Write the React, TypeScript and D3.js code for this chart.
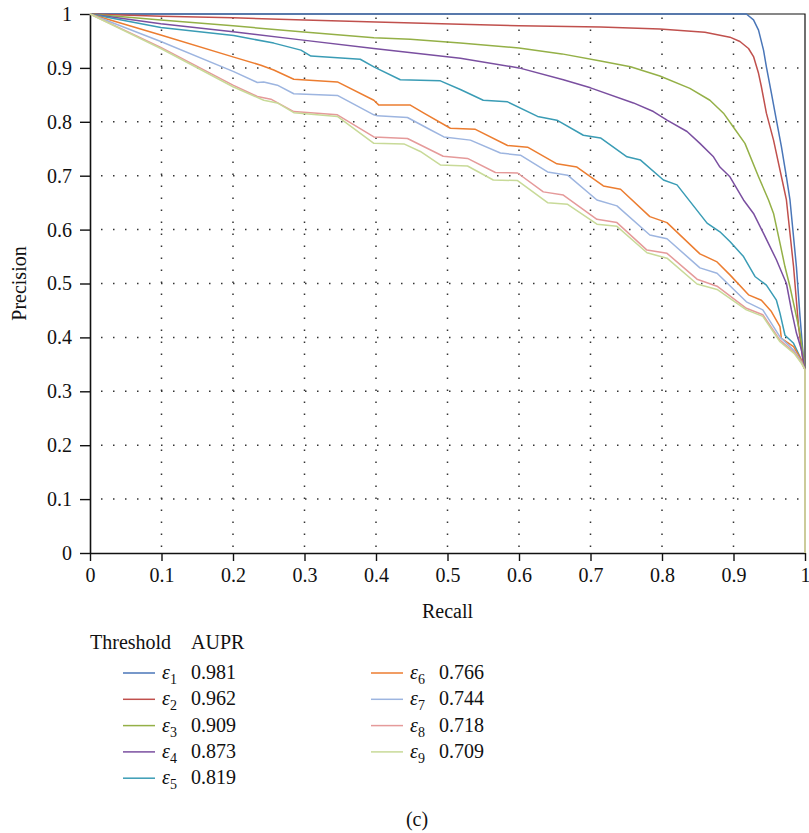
import React, { useRef, useEffect } from 'react'
import { select, scaleLinear, line, axisLeft, axisBottom } from 'd3'

// tick values for both axes
const recallTicks = [0, 0.1, 0.2, 0.3, 0.4, 0.5, 0.6, 0.7, 0.8, 0.9, 1]
const precisionTicks = [0, 0.1, 0.2, 0.3, 0.4, 0.5, 0.6, 0.7, 0.8, 0.9, 1]

// [recall, precision] points
const eps1 = [[0, 1], [0.918, 1], [0.928, 0.989], [0.935, 0.970], [0.942, 0.933], [0.946, 0.902], [0.953, 0.853], [0.960, 0.803], [0.967, 0.754], [0.974, 0.698], [0.979, 0.655], [0.988, 0.531], [0.993, 0.439], [0.998, 0.358], [1, 0.34], [1, 0]]
const eps2 = [[0, 1], [0.1, 0.996], [0.2, 0.993], [0.3, 0.989], [0.4, 0.985], [0.518, 0.981], [0.6, 0.978], [0.714, 0.976], [0.797, 0.972], [0.86, 0.966], [0.895, 0.957], [0.909, 0.949], [0.921, 0.936], [0.928, 0.921], [0.935, 0.890], [0.939, 0.865], [0.946, 0.816], [0.956, 0.766], [0.963, 0.723], [0.970, 0.680], [0.974, 0.655], [0.984, 0.531], [0.991, 0.420], [0.997, 0.358], [1, 0.34], [1, 0]]
const eps3 = [[0, 1], [0.099, 0.989], [0.2, 0.978], [0.295, 0.967], [0.397, 0.956], [0.448, 0.953], [0.518, 0.946], [0.6, 0.937], [0.66, 0.926], [0.714, 0.913], [0.756, 0.902], [0.797, 0.885], [0.839, 0.862], [0.867, 0.840], [0.886, 0.816], [0.900, 0.790], [0.916, 0.760], [0.935, 0.698], [0.949, 0.655], [0.956, 0.630], [0.965, 0.575], [0.972, 0.531], [0.979, 0.494], [0.986, 0.451], [0.993, 0.408], [0.999, 0.352], [1, 0.34], [1, 0]]
const eps4 = [[0, 1], [0.099, 0.982], [0.2, 0.967], [0.295, 0.952], [0.397, 0.936], [0.518, 0.918], [0.6, 0.900], [0.662, 0.878], [0.7, 0.863], [0.760, 0.835], [0.788, 0.819], [0.807, 0.803], [0.835, 0.782], [0.853, 0.760], [0.872, 0.735], [0.881, 0.716], [0.895, 0.698], [0.914, 0.655], [0.928, 0.630], [0.942, 0.593], [0.960, 0.544], [0.974, 0.500], [0.981, 0.451], [0.988, 0.408], [0.995, 0.377], [1, 0.34], [1, 0]]
const eps5 = [[0, 1], [0.099, 0.975], [0.201, 0.960], [0.257, 0.946], [0.295, 0.933], [0.309, 0.922], [0.378, 0.916], [0.397, 0.902], [0.434, 0.878], [0.490, 0.876], [0.518, 0.860], [0.550, 0.840], [0.584, 0.837], [0.626, 0.810], [0.653, 0.803], [0.690, 0.775], [0.714, 0.770], [0.751, 0.735], [0.770, 0.729], [0.802, 0.692], [0.821, 0.683], [0.863, 0.612], [0.881, 0.596], [0.895, 0.578], [0.914, 0.550], [0.930, 0.513], [0.946, 0.497], [0.960, 0.469], [0.965, 0.445], [0.972, 0.404], [0.984, 0.389], [0.993, 0.364], [1, 0.34], [1, 0]]
const eps6 = [[0, 1], [0.099, 0.961], [0.201, 0.920], [0.239, 0.905], [0.257, 0.896], [0.285, 0.879], [0.346, 0.874], [0.397, 0.840], [0.404, 0.831], [0.448, 0.831], [0.467, 0.816], [0.504, 0.788], [0.539, 0.786], [0.584, 0.756], [0.612, 0.753], [0.653, 0.722], [0.681, 0.716], [0.718, 0.681], [0.742, 0.675], [0.783, 0.624], [0.807, 0.613], [0.853, 0.555], [0.877, 0.540], [0.895, 0.516], [0.921, 0.479], [0.939, 0.469], [0.953, 0.448], [0.965, 0.420], [0.967, 0.398], [0.984, 0.383], [0.995, 0.358], [1, 0.34], [1, 0]]
const eps7 = [[0, 1], [0.099, 0.949], [0.201, 0.893], [0.234, 0.873], [0.243, 0.874], [0.262, 0.868], [0.285, 0.852], [0.346, 0.849], [0.397, 0.813], [0.402, 0.811], [0.444, 0.808], [0.472, 0.788], [0.495, 0.772], [0.532, 0.766], [0.574, 0.742], [0.602, 0.738], [0.640, 0.707], [0.668, 0.701], [0.709, 0.655], [0.737, 0.644], [0.783, 0.590], [0.807, 0.583], [0.853, 0.529], [0.877, 0.519], [0.918, 0.466], [0.941, 0.451], [0.965, 0.401], [0.985, 0.375], [0.995, 0.355], [1, 0.34], [1, 0]]
const eps8 = [[0, 1], [0.099, 0.938], [0.2, 0.868], [0.234, 0.847], [0.253, 0.842], [0.285, 0.819], [0.346, 0.813], [0.397, 0.772], [0.444, 0.769], [0.494, 0.736], [0.528, 0.732], [0.567, 0.706], [0.598, 0.705], [0.634, 0.670], [0.662, 0.664], [0.709, 0.619], [0.737, 0.613], [0.779, 0.562], [0.807, 0.556], [0.849, 0.508], [0.877, 0.495], [0.918, 0.454], [0.941, 0.442], [0.965, 0.395], [0.985, 0.372], [0.995, 0.353], [1, 0.34], [1, 0]]
const eps9 = [[0, 1], [0.099, 0.936], [0.2, 0.865], [0.243, 0.840], [0.262, 0.835], [0.285, 0.817], [0.346, 0.810], [0.397, 0.760], [0.439, 0.759], [0.462, 0.745], [0.490, 0.720], [0.528, 0.718], [0.564, 0.692], [0.598, 0.691], [0.640, 0.650], [0.668, 0.647], [0.709, 0.610], [0.737, 0.606], [0.779, 0.557], [0.807, 0.547], [0.849, 0.499], [0.877, 0.489], [0.918, 0.451], [0.941, 0.439], [0.965, 0.392], [0.985, 0.370], [0.995, 0.352], [1, 0.34], [1, 0]]

const curves = [eps1, eps2, eps3, eps4, eps5, eps6, eps7, eps8, eps9]
const subs = ['1', '2', '3', '4', '5', '6', '7', '8', '9']
const aupr = ['0.981', '0.962', '0.909', '0.873', '0.819', '0.766', '0.744', '0.718', '0.709']
const colors = ['#4a76b8', '#c0504d', '#94b047', '#7a4fa0', '#3a9cb5', '#ec7d30', '#9db5e0', '#e59a9a', '#c8da98']

const font = '"Liberation Serif", "DejaVu Serif", serif'

export default function App() {
  const svgRef = useRef(null)

  useEffect(() => {
    const svg = select(svgRef.current)
    svg.selectAll('*').remove()

    const left = 90, top = 14, w = 715, h = 539
    const x = scaleLinear().domain([0, 1]).range([left, left + w])
    const y = scaleLinear().domain([0, 1]).range([top + h, top])

    // dotted grid
    const grid = svg.append('g')
    grid.selectAll('.gx')
      .data(recallTicks.slice(1, -1))
      .join('line')
      .attr('x1', d => x(d)).attr('x2', d => x(d))
      .attr('y1', top + h).attr('y2', top)
      .attr('stroke', '#333').attr('stroke-width', 1.5)
      .attr('stroke-dasharray', '1.5 10.5').attr('stroke-dashoffset', -6)
    grid.selectAll('.gy')
      .data(precisionTicks.slice(1, -1))
      .join('line')
      .attr('x1', left).attr('x2', left + w)
      .attr('y1', d => y(d)).attr('y2', d => y(d))
      .attr('stroke', '#333').attr('stroke-width', 1.5)
      .attr('stroke-dasharray', '1.5 10.5').attr('stroke-dashoffset', -11)

    // frame top + right
    svg.append('path')
      .attr('d', `M${left},${top}H${left + w}V${top + h}`)
      .attr('fill', 'none').attr('stroke', '#111').attr('stroke-width', 1.2)

    const fmt = d => String(d)
    const xAxis = svg.append('g')
      .attr('transform', `translate(0,${top + h})`)
      .call(axisBottom(x).tickValues(recallTicks).tickFormat(fmt).tickSize(8).tickPadding(7).tickSizeOuter(0))
    const yAxis = svg.append('g')
      .attr('transform', `translate(${left},0)`)
      .call(axisLeft(y).tickValues(precisionTicks).tickFormat(fmt).tickSize(10).tickPadding(8).tickSizeOuter(0))
    for (const ax of [xAxis, yAxis]) {
      ax.select('.domain').attr('stroke', '#111').attr('stroke-width', 1.6)
      ax.selectAll('.tick line').attr('stroke', '#111').attr('stroke-width', 1.4)
      ax.selectAll('.tick text').attr('font-family', font).attr('font-size', 20).attr('fill', '#111')
    }

    // curves, first to last so eps9 sits on top
    const pr = line().x(d => x(d[0])).y(d => y(d[1]))
    svg.append('g')
      .selectAll('path')
      .data(curves)
      .join('path')
      .attr('d', pr)
      .attr('fill', 'none')
      .attr('stroke', (d, i) => colors[i])
      .attr('stroke-width', 1.5)
      .attr('stroke-linejoin', 'round')

    // axis titles
    svg.append('text').attr('x', x(0.5)).attr('y', 618).attr('text-anchor', 'middle')
      .attr('font-family', font).attr('font-size', 20).attr('fill', '#111').text('Recall')
    svg.append('text').attr('transform', `translate(26,${y(0.5)}) rotate(-90)`).attr('text-anchor', 'middle')
      .attr('font-family', font).attr('font-size', 20).attr('fill', '#111').text('Precision')

    // legend
    const lg = svg.append('g').attr('font-family', font).attr('font-size', 20).attr('fill', '#111')
    lg.append('text').attr('x', 90).attr('y', 649).text('Threshold')
    lg.append('text').attr('x', 191).attr('y', 649).text('AUPR')
    curves.forEach((c, i) => {
      const col = i < 5 ? 0 : 1
      const row = i < 5 ? i : i - 5
      const lx = col === 0 ? 123 : 371
      const cy = 673 + row * 26.3
      lg.append('line').attr('x1', lx).attr('x2', lx + 32).attr('y1', cy).attr('y2', cy)
        .attr('stroke', colors[i]).attr('stroke-width', 1.5)
      const t = lg.append('text').attr('x', lx + 39).attr('y', cy + 6)
      t.append('tspan').attr('font-style', 'italic').text('ε')
      t.append('tspan').attr('font-size', 14).attr('dy', 5).text(subs[i])
      lg.append('text').attr('x', lx + 68).attr('y', cy + 6).text(aupr[i])
    })

    svg.append('text').attr('x', 417).attr('y', 826).attr('text-anchor', 'middle')
      .attr('font-family', font).attr('font-size', 20).attr('fill', '#111').text('(c)')
  }, [])

  return (
    <svg ref={svgRef} width={809} height={833}
      style={{ position: 'absolute', left: 0, top: 0, background: '#fff' }} />
  )
}
